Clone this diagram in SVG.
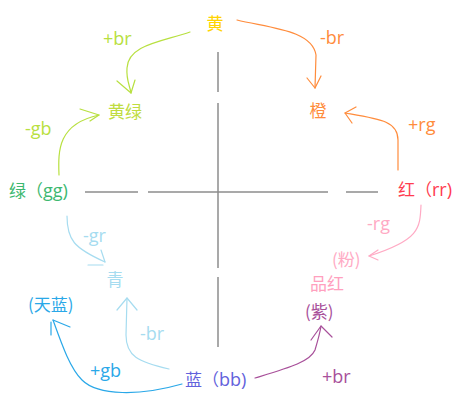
<svg xmlns="http://www.w3.org/2000/svg" width="467" height="403" viewBox="0 0 467 403">
<style>
text{font-family:"Noto Sans CJK SC","Open Sans",sans-serif;font-size:17px}
.lt{font-family:"Open Sans","Noto Sans CJK SC",sans-serif;font-size:18px}
.ax{stroke:#8c8c8c;stroke-width:1.5;fill:none}
.c{fill:none;stroke-width:1.2;stroke-linecap:round;stroke-linejoin:round}
.yg{stroke:#b8e040}.yg-t{fill:#b8e040}
.or{stroke:#ff8c3c}.or-t{fill:#ff8c3c}
.pk{stroke:#ffaac4}.pk-t{fill:#ffaac4}
.pu{stroke:#a8509a}.pu-t{fill:#a8509a}
.lb{stroke:#a6dcf0}.lb-t{fill:#a6dcf0}
.sb{stroke:#2aa8e8}.sb-t{fill:#2aa8e8}
</style>
<rect width="467" height="403" fill="#fff"/>
<g id="axes">
<line class="ax" x1="218" y1="52" x2="218" y2="92"/>
<line class="ax" x1="218" y1="103" x2="218" y2="268"/>
<line class="ax" x1="218" y1="277" x2="218" y2="347"/>
<line class="ax" x1="85" y1="192" x2="138" y2="192"/>
<line class="ax" x1="148" y1="192" x2="328" y2="192"/>
<line class="ax" x1="346" y1="192" x2="378" y2="192"/>
</g>
<g id="connectors">
<path class="c yg" d="M190,32 C160,42 128,45 127,68 C126,80 130,86 131,93"/>
<path class="c yg" d="M117,81 L131,93 L135,80"/>
<path class="c yg" d="M59,175 C58,150 58,124 99,115"/>
<path class="c yg" d="M80,109 L99,115 L90,121"/>
<path class="c or" d="M237,20 C270,28 312,30 316,55 L315,88"/>
<path class="c or" d="M307,78 L315,88 L321,76"/>
<path class="c or" d="M398,170 L398,140 C398,121 380,119 345,113"/>
<path class="c or" d="M356,107 L345,113 L352,123"/>
<path class="c pk" d="M421,205 C420,228 420,240 369,256"/>
<path class="c pk" d="M378,250 L369,256 L378,260"/>
<path class="c lb" d="M67,216 C67,240 74,248 105,262"/>
<path class="c lb" d="M101,250 L105,262 M88,265 L103,265"/>
<path class="c lb" d="M169,369 C138,362 126,356 126,335 L127,298"/>
<path class="c lb" d="M117,310 L127,298 L137,310"/>
<path class="c sb" d="M182,384 C140,396 98,396 82,380 C70,368 62,345 53,320"/>
<path class="c sb" d="M51,322 L51,335 M53,320 L70,327"/>
<path class="c pu" d="M255,378 C288,368 310,362 315,350 C318,340 320,333 321,326"/>
<path class="c pu" d="M311,340 L321,326 L332,337"/>
</g>
<g id="node-yellow"><text x="215" y="30" text-anchor="middle" fill="#ffd400">黄</text></g>
<g id="node-yellowgreen"><text x="125" y="118" text-anchor="middle" fill="#c0dc40">黄绿</text></g>
<g id="node-green"><text x="9" y="197" fill="#3cb870">绿（<tspan class="lt">gg)</tspan></text></g>
<g id="node-orange"><text x="318" y="117" text-anchor="middle" fill="#ff8c3c">橙</text></g>
<g id="node-red"><text x="398" y="196" fill="#ff3c50">红（<tspan class="lt">rr)</tspan></text></g>
<g id="node-pink"><text x="332" y="266" fill="#ffaac4">(粉)</text></g>
<g id="node-magenta"><text x="310" y="290" fill="#ffa0be">品红</text></g>
<g id="node-purple"><text x="305" y="318" fill="#a8509a">(紫)</text></g>
<g id="node-cyan"><text x="115" y="286" text-anchor="middle" fill="#a6dcf0">青</text></g>
<g id="node-skyblue"><text x="28" y="311" fill="#2aa8e8">(天蓝)</text></g>
<g id="node-blue"><text x="185" y="386" fill="#6262dc">蓝（<tspan class="lt">bb)</tspan></text></g>
<g id="labels">
<text class="lt yg-t" x="103" y="45">+br</text>
<text class="lt yg-t" x="25" y="135">-gb</text>
<text class="lt or-t" x="320" y="44">-br</text>
<text class="lt or-t" x="408" y="131">+rg</text>
<text class="lt pk-t" x="367" y="230">-rg</text>
<text class="lt lb-t" x="83" y="242">-gr</text>
<text class="lt lb-t" x="140" y="340">-br</text>
<text class="lt sb-t" x="90" y="377">+gb</text>
<text class="lt pu-t" x="322" y="383">+br</text>
</g>
</svg>
